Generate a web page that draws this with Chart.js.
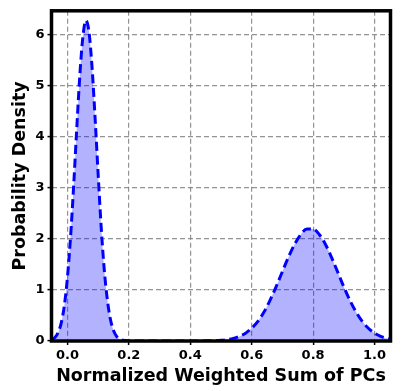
<!DOCTYPE html>
<html>
<head>
<meta charset="utf-8">
<script src="https://cdn.jsdelivr.net/npm/chart.js@4"></script>
<style>
  html, body { margin: 0; padding: 0; background: #fff; }
  #wrap { width: 405px; height: 391px; }
</style>
</head>
<body>
<div id="wrap"><canvas id="c" width="405" height="391"></canvas></div>
<script>
// Data (kernel density estimate)
const xValues = [
  -0.05, -0.04, -0.03, -0.02, -0.01, 0.00, 0.01, 0.02, 0.03, 0.04, 0.05, 0.06,
  0.07, 0.08, 0.09, 0.10, 0.11, 0.12, 0.13, 0.14, 0.15, 0.16, 0.17, 0.18,
  0.20, 0.22, 0.24, 0.26, 0.28, 0.30, 0.32, 0.34, 0.36, 0.38,
  0.40, 0.42, 0.44, 0.46, 0.48, 0.50, 0.52, 0.54, 0.56, 0.58, 0.60,
  0.62, 0.64, 0.66, 0.68, 0.70, 0.72, 0.74, 0.76, 0.78, 0.80,
  0.82, 0.84, 0.86, 0.88, 0.90, 0.92, 0.94, 0.96, 0.98, 1.00,
  1.02, 1.04, 1.05
];
const densityValues = [
  0.03, 0.075, 0.17, 0.36, 0.70, 1.25, 2.03, 3.02, 4.13, 5.17, 5.94, 6.27,
  6.05, 5.36, 4.36, 3.25, 2.21, 1.38, 0.80, 0.42, 0.205, 0.09, 0.037, 0.014,
  0.002, 0, 0, 0, 0, 0, 0, 0, 0, 0,
  0.0003, 0.0006, 0.0013, 0.003, 0.0066, 0.014, 0.027, 0.051, 0.090, 0.153, 0.25,
  0.384, 0.566, 0.80, 1.07, 1.36, 1.645, 1.895, 2.085, 2.19, 2.19,
  2.084, 1.892, 1.636, 1.349, 1.059, 0.793, 0.566, 0.384, 0.25, 0.153,
  0.090, 0.051, 0.037
];
const xTickValues = [0.0, 0.2, 0.4, 0.6, 0.8, 1.0];
const yTickValues = [0, 1, 2, 3, 4, 5, 6];
const xTitle = 'Normalized Weighted Sum of PCs';
const yTitle = 'Probability Density';

const points = xValues.map((x, i) => ({ x: x, y: densityValues[i] }));

const frame = {
  id: 'frame',
  afterDatasetsDraw(chart) {
    const a = chart.chartArea, ctx = chart.ctx;
    ctx.save();
    ctx.strokeStyle = '#000';
    ctx.lineWidth = 3.5;
    ctx.setLineDash([]);
    ctx.strokeRect(a.left, a.top, a.right - a.left, a.bottom - a.top);
    ctx.restore();
  }
};

const tickFont = { family: 'DejaVu Sans', size: 13, weight: 'bold' };
const titleFont = { family: 'DejaVu Sans', size: 17.5, weight: 'bold' };
const gridCommon = {
  color: 'rgba(120,120,120,0.8)',
  lineWidth: 1.2,
  tickColor: '#000',
  tickWidth: 1.5,
  tickLength: 4,
  tickBorderDash: [],
  drawOnChartArea: true
};
const borderCommon = { display: false, dash: [5, 3] };

new Chart(document.getElementById('c'), {
  type: 'line',
  data: {
    datasets: [{
      data: points,
      borderColor: '#0000ff',
      borderWidth: 3,
      borderDash: [9, 4.5],
      backgroundColor: 'rgba(0,0,255,0.3)',
      fill: 'origin',
      pointRadius: 0,
      cubicInterpolationMode: 'monotone'
    }]
  },
  options: {
    responsive: false,
    animation: false,
    devicePixelRatio: 1,
    layout: { padding: { top: 6.5, right: 14.5, left: 10, bottom: 4 } },
    plugins: { legend: { display: false }, tooltip: { enabled: false } },
    scales: {
      x: {
        type: 'linear',
        min: -0.052,
        max: 1.052,
        afterBuildTicks(s) { s.ticks = xTickValues.map(v => ({ value: v })); },
        afterFit(s) { s.height = 46; },
        ticks: { color: '#000', font: tickFont, padding: 3,
                 callback: v => Number(v).toFixed(1), maxRotation: 0, autoSkip: false },
        grid: gridCommon,
        border: borderCommon,
        title: { display: true, text: xTitle, color: '#000', font: titleFont, padding: { top: 0, bottom: 0 } }
      },
      y: {
        type: 'linear',
        min: 0,
        max: 6.46,
        afterBuildTicks(s) { s.ticks = yTickValues.map(v => ({ value: v })); },
        afterFit(s) { s.width = 41.5; },
        ticks: { color: '#000', font: tickFont, padding: 3,
                 callback: v => String(v), autoSkip: false },
        grid: gridCommon,
        border: borderCommon,
        title: { display: true, text: yTitle, color: '#000', font: titleFont, padding: { top: 0, bottom: 0 } }
      }
    }
  },
  plugins: [frame]
});
</script>
</body>
</html>
